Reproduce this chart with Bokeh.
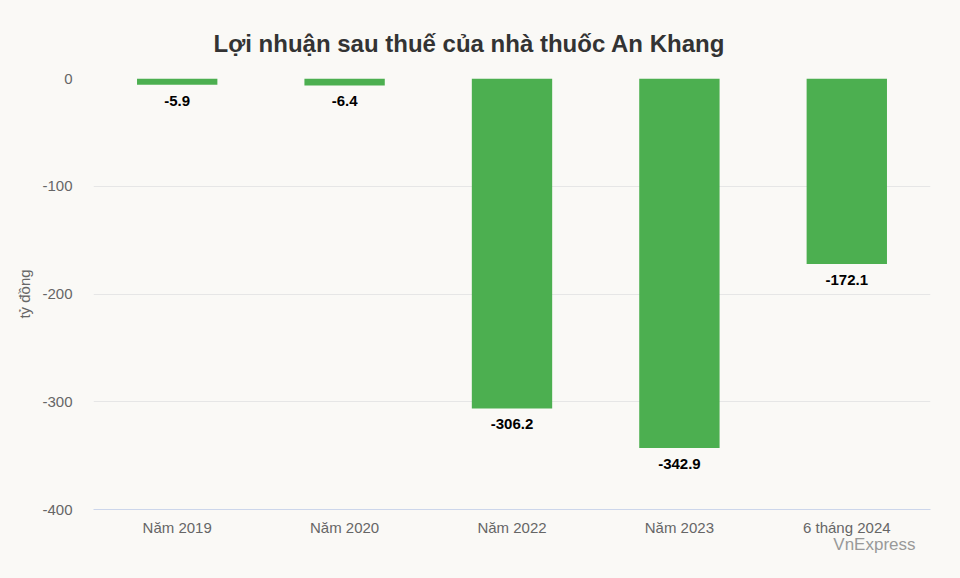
from bokeh.plotting import figure
from bokeh.models import ColumnDataSource, FactorRange, Range1d, FixedTicker, Title
from bokeh.core.properties import value
from bokeh.embed import file_html
from bokeh.resources import INLINE

categories = ["Năm 2019", "Năm 2020", "Năm 2022", "Năm 2023", "6 tháng 2024"]
profits = [-5.9, -6.4, -306.2, -342.9, -172.1]
labels = ["-5.9", "-6.4", "-306.2", "-342.9", "-172.1"]
y_ticks = [0, -100, -200, -300, -400]
y_tick_labels = ["0", "-100", "-200", "-300", "-400"]

BG = "#FAF9F6"
FONT = "Liberation Sans"

src = ColumnDataSource(dict(cat=categories, val=profits, lab=labels))

p = figure(width=960, height=578, x_range=FactorRange(*categories),
           y_range=Range1d(-400, 0), output_backend="svg", toolbar_location=None,
           min_border_left=93, min_border_right=30, min_border_top=78, min_border_bottom=69)
p.background_fill_color = BG
p.border_fill_color = BG
p.outline_line_color = None

p.title = Title(text="Lợi nhuận sau thuế của nhà thuốc An Khang", align="left",
                text_font=FONT, text_font_size="24px", text_font_style="bold",
                text_color="#333333", offset=120, standoff=44)

p.vbar(x="cat", top="val", bottom=0, width=0.48, source=src,
       fill_color="#4CAF50", line_color=None)
p.text(x="cat", y="val", text="lab", source=src, y_offset=16,
       text_align="center", text_baseline="middle", text_font=value(FONT),
       text_font_size="15px", text_font_style="bold", text_color="#000000")

p.xgrid.grid_line_color = None
p.ygrid.grid_line_color = "#e6e6e6"
p.ygrid.ticker = FixedTicker(ticks=y_ticks)

p.yaxis.ticker = FixedTicker(ticks=y_ticks)
p.yaxis.major_label_overrides = {t: s for t, s in zip(y_ticks, y_tick_labels)}
p.yaxis.axis_line_color = None
p.yaxis.major_tick_line_color = None
p.yaxis.minor_tick_line_color = None
p.yaxis.major_label_standoff = 15
p.yaxis.major_label_text_font = FONT
p.yaxis.major_label_text_font_size = "15px"
p.yaxis.major_label_text_color = "#666666"
p.yaxis.axis_label = "tỷ đồng"
p.yaxis.axis_label_text_font = FONT
p.yaxis.axis_label_text_font_size = "15px"
p.yaxis.axis_label_text_font_style = "normal"
p.yaxis.axis_label_text_color = "#666666"
p.yaxis.axis_label_standoff = 6

p.xaxis.axis_line_color = "#ccd6eb"
p.xaxis.major_tick_line_color = None
p.xaxis.minor_tick_line_color = None
p.xaxis.major_label_standoff = 3
p.xaxis.major_label_text_font = FONT
p.xaxis.major_label_text_font_size = "15px"
p.xaxis.major_label_text_color = "#666666"

credit = Title(text="VnExpress", align="right", text_font=FONT, text_font_size="17px",
               text_font_style="normal", text_color="#999999", offset=15, standoff=-11)
p.add_layout(credit, "below")

html = file_html(p, INLINE)
html = html.replace("<head>", "<head><style>body{background:%s}</style>" % BG, 1)
open("out.html", "w").write(html)
